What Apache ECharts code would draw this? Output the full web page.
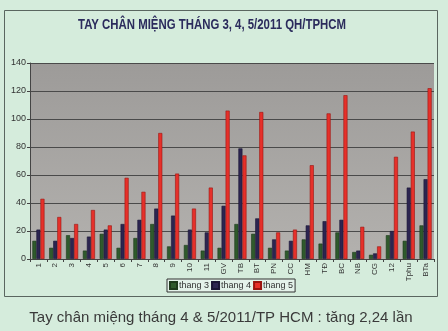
<!DOCTYPE html>
<html>
<head>
<meta charset="utf-8">
<script src="https://cdn.jsdelivr.net/npm/echarts@6/dist/echarts.min.js"></script>
<style>
html,body{margin:0;padding:0;background:#d5ecdc;}
#c{width:448px;height:331px;}
</style>
</head>
<body>
<div id="c"></div>
<script>
var categories = ['1','2','3','4','5','6','7','8','9','10','11','GV','TB','BT','PN','CC','HM','TĐ','BC','NB','CG','12','Tphu','BTa'];
var thang3 = [13, 8, 17, 6, 18, 8, 15, 25, 9, 10, 6, 8, 25, 18, 8, 6, 14, 11, 19, 5, 3, 17, 13, 24];
var thang4 = [21, 13, 15, 16, 21, 25, 28, 36, 31, 21, 19, 38, 79, 29, 14, 13, 24, 27, 28, 6, 4, 20, 51, 57];
var thang5 = [43, 30, 25, 35, 24, 58, 48, 90, 61, 36, 51, 106, 74, 105, 19, 21, 67, 104, 117, 23, 9, 73, 91, 122];
var seriesNames = ['thang 3', 'thang 4', 'thang 5'];
var yTicks = [0, 20, 40, 60, 80, 100, 120, 140];
var titleText = 'TAY CHÂN MIỆNG THÁNG 3, 4, 5/2011 QH/TPHCM';
var footerText = 'Tay chân miệng tháng 4 & 5/2011/TP HCM : tăng 2,24 lần';

var chart = echarts.init(document.getElementById('c'));
var colors = ['#2f5a2c', '#2c2550', '#e6302a'];
var borders = ['#1e3a1c', '#1a1535', '#9a1510'];
var series = [thang3, thang4, thang5].map(function (d, i) {
  return {
    name: seriesNames[i],
    type: 'bar',
    data: d,
    barGap: '0%',
    barCategoryGap: '28%',
    itemStyle: { color: colors[i], borderColor: borders[i], borderWidth: 0.6 }
  };
});

chart.setOption({
  backgroundColor: '#d5ecdc',
  animation: false,
  graphic: [
    { type: 'rect', shape: { x: 4.5, y: 10.5, width: 433, height: 286 }, style: { fill: 'none', stroke: '#5a6660', lineWidth: 1 }, z: -1 },
    { type: 'text', x: 212, y: 17, scaleX: 0.76, originX: 0, style: { text: titleText, font: 'bold 15px "Liberation Sans", Arial, sans-serif', fill: '#2b2b5c', textAlign: 'center' } },
    { type: 'text', x: 221, y: 310, style: { text: footerText, font: '15px "Liberation Sans", Arial, sans-serif', fill: '#3a3a3a', textAlign: 'center' } }
  ],
  legend: {
    data: seriesNames,
    left: 167, top: 279,
    itemWidth: 7, itemHeight: 7, itemGap: 2,
    padding: [2, 2],
    borderColor: '#333', borderWidth: 1,
    backgroundColor: '#e4f2ea',
    icon: 'rect',
    textStyle: { fontSize: 9, color: '#333', fontFamily: 'Liberation Sans, Arial', padding: [0, 0, 0, -3] }
  },
  grid: { left: 30, right: 14, top: 63, bottom: 72, show: true, backgroundColor: {
      type: 'linear', x: 0, y: 0, x2: 0, y2: 1,
      colorStops: [{ offset: 0, color: '#9d9b99' }, { offset: 1, color: '#b3b1ae' }] }, borderWidth: 0 },
  xAxis: {
    type: 'category', data: categories,
    axisLine: { lineStyle: { color: '#444' } },
    axisTick: { show: true, length: 3, lineStyle: { color: '#444' } },
    axisLabel: { rotate: 90, fontSize: 8, color: '#333', margin: 4, interval: 0 }
  },
  yAxis: {
    type: 'value', min: yTicks[0], max: yTicks[yTicks.length - 1], interval: 20,
    axisLine: { show: true, lineStyle: { color: '#444' } },
    axisTick: { show: true, length: 3, lineStyle: { color: '#444' } },
    axisLabel: { fontSize: 9, color: '#333', margin: 4 },
    splitLine: { lineStyle: { color: '#4a4a4a', width: 1.2 } }
  },
  series: series
});
</script>
</body>
</html>
